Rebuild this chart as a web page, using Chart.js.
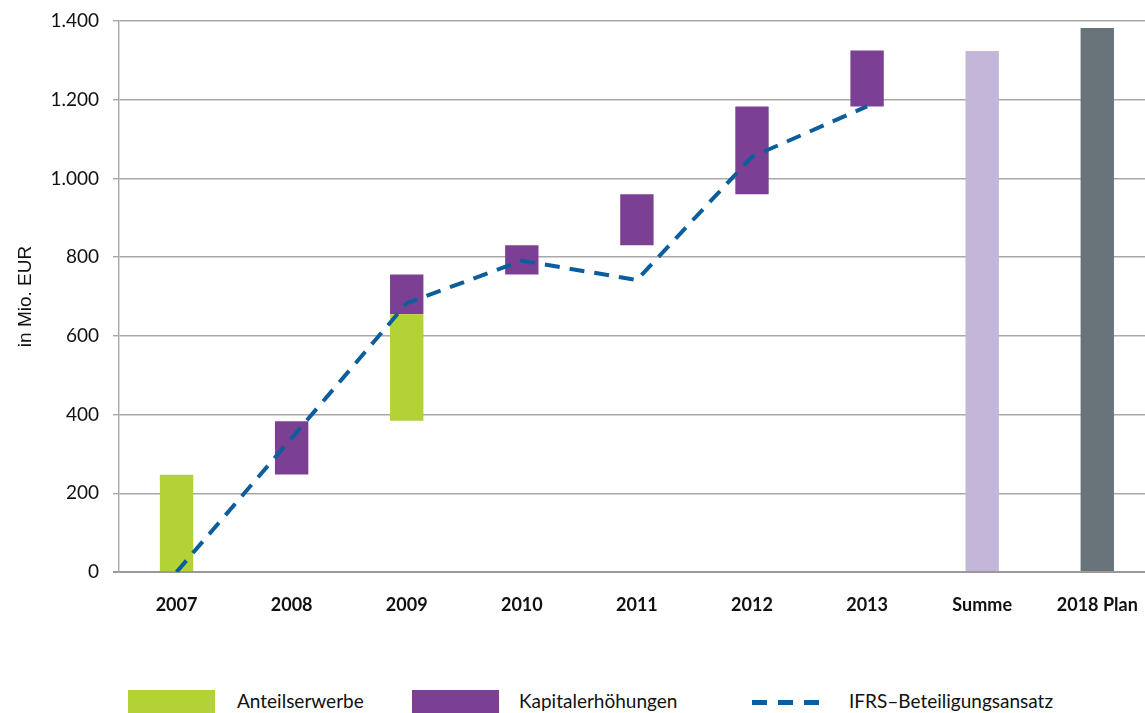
<!DOCTYPE html>
<html>
<head>
<meta charset="utf-8">
<script src="https://cdn.jsdelivr.net/npm/chart.js@4/dist/chart.umd.min.js"></script>
<style>
  html, body { margin: 0; padding: 0; background: #fff; overflow: hidden; }
  #wrap { position: relative; width: 1160px; height: 713px; }
  #c { position: absolute; left: 0; top: 0; }
  .lg { position: absolute; font-family: Lato, sans-serif; font-size: 19px; line-height: 19px; color: #111; white-space: nowrap; }
  .box { position: absolute; top: 690px; width: 87px; height: 30px; }
  .dash { position: absolute; top: 700px; left: 752px; width: 68px; height: 5px;
          background: repeating-linear-gradient(to right, #0b5e9e 0 15px, transparent 15px 26px); }
</style>
</head>
<body>
<div id="wrap">
  <canvas id="c" width="1160" height="616" style="width:1160px;height:616px"></canvas>
  <div class="box" style="left:128px;background:#b3d235"></div>
  <div class="lg" style="left:237px;top:691px">Anteilserwerbe</div>
  <div class="box" style="left:412px;background:#7b3f93"></div>
  <div class="lg" style="left:519px;top:691px">Kapitalerhöhungen</div>
  <div class="dash"></div>
  <div class="lg" style="left:849px;top:691px">IFRS–Beteiligungsansatz</div>
</div>
<script>
const categories = ['2007', '2008', '2009', '2010', '2011', '2012', '2013', 'Summe', '2018 Plan'];
// floating bars [from, to]
const anteilserwerbe = [[0, 247], null, [384, 655], null, null, null, null, null, null];
const kapitalerhoehungen = [null, [248, 383], [655, 756], [756, 830], [830, 960], [960, 1183], [1183, 1325], null, null];
const summe = [null, null, null, null, null, null, null, [0, 1324], null];
const plan2018 = [null, null, null, null, null, null, null, null, [0, 1382]];
const ifrsBeteiligungsansatz = [0, 340, 683, 791, 742, 1055, 1183, null, null];
const yTicks = [0, 200, 400, 600, 800, 1000, 1200, 1400];

function fmt(v) { return String(v).replace(/\B(?=(\d{3})+(?!\d))/g, '.'); }

const barCommon = { categoryPercentage: 1, barPercentage: 0.29, borderWidth: 0, order: 2, borderSkipped: false };

const chart = new Chart(document.getElementById('c'), {
  type: 'bar',
  data: {
    labels: categories,
    datasets: [
      { label: 'Anteilserwerbe', data: anteilserwerbe, backgroundColor: '#b3d235', ...barCommon },
      { label: 'Kapitalerhöhungen', data: kapitalerhoehungen, backgroundColor: '#7b3f93', ...barCommon },
      { label: 'Summe', data: summe, backgroundColor: '#c4b6d9', ...barCommon },
      { label: '2018 Plan', data: plan2018, backgroundColor: '#68737a', ...barCommon },
      { type: 'line', label: 'IFRS–Beteiligungsansatz', data: ifrsBeteiligungsansatz,
        borderColor: '#0b5e9e', borderWidth: 4, borderDash: [15, 10], borderJoinStyle: 'round',
        pointRadius: 0, tension: 0, fill: false, order: 1, spanGaps: false }
    ]
  },
  options: {
    responsive: false,
    maintainAspectRatio: false,
    devicePixelRatio: 1,
    animation: false,
    layout: { padding: { top: 21, right: 4, bottom: 0, left: 0 } },
    plugins: { legend: { display: false }, tooltip: { enabled: false } },
    scales: {
      x: {
        stacked: true,
        grid: { display: false, drawTicks: false, tickLength: 0 },
        border: { display: true, color: '#999999', width: 2 },
        ticks: { padding: 22, color: '#111', font: { family: 'Lato', size: 18, weight: 'bold' }, maxRotation: 0, autoSkip: false },
        afterFit: (s) => { s.height = 44; }
      },
      y: {
        stacked: false,
        min: 0, max: 1400,
        afterBuildTicks: (s) => { s.ticks = yTicks.map(v => ({ value: v })); },
        afterFit: (s) => { s.width = 119; s.paddingTop = 0; s.paddingBottom = 0; },
        grid: { color: (ctx) => ctx.tick && ctx.tick.value === 0 ? '#999999' : '#a8a8a8', lineWidth: (ctx) => ctx.tick && ctx.tick.value === 0 ? 2 : 1.4, tickLength: 6, drawTicks: true },
        border: { display: true, color: '#a8a8a8', width: 1.4 },
        ticks: { padding: 14, color: '#111', font: { family: 'Lato', size: 19 }, callback: (v) => fmt(v) },
        title: { display: true, text: 'in Mio. EUR', color: '#111', font: { family: 'Liberation Sans', size: 19 }, padding: { top: 14, bottom: 0 } }
      }
    }
  }
});
</script>
</body>
</html>
